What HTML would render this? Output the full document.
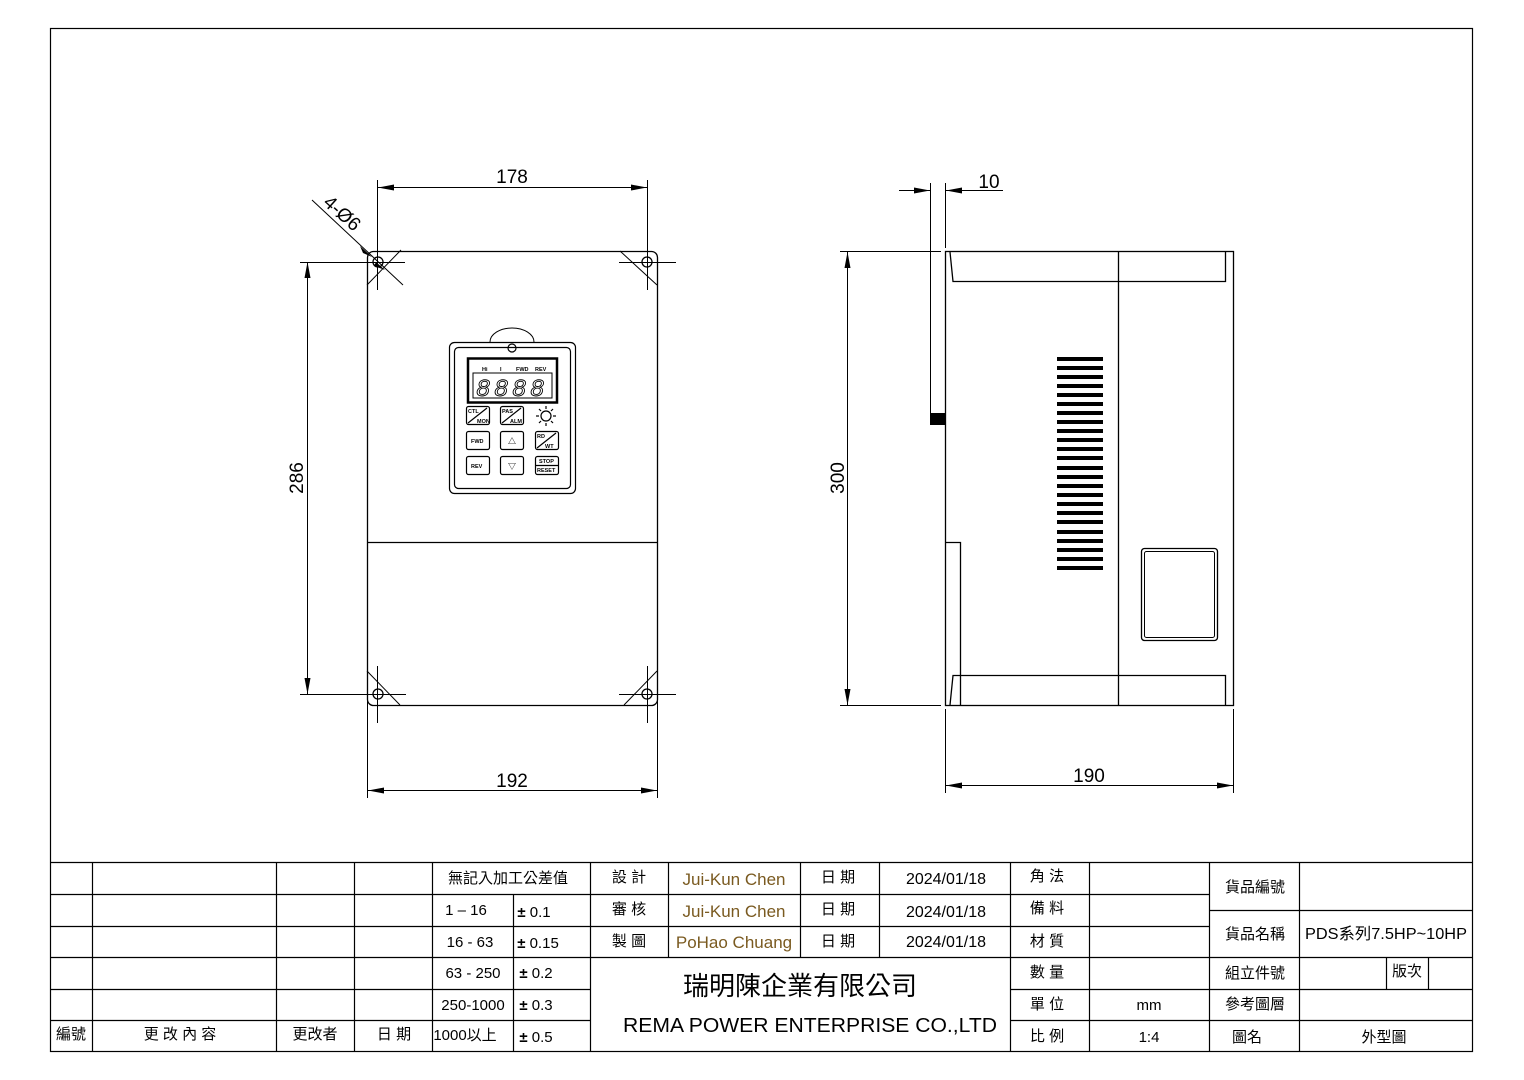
<!DOCTYPE html>
<html><head><meta charset="utf-8"><style>
html,body{margin:0;padding:0;background:#fff;}
svg{display:block;}
.t{font-family:"Liberation Sans","Noto Sans CJK TC",sans-serif;}
</style></head><body>
<svg width="1524" height="1080" viewBox="0 0 1524 1080" xmlns="http://www.w3.org/2000/svg">
<defs>
<marker id="a" viewBox="0 0 16 6" refX="16" refY="3" markerWidth="16" markerHeight="6" markerUnits="userSpaceOnUse" orient="auto-start-reverse"><path d="M0,0 L16,3 L0,6 Z" fill="#000"/></marker>
</defs>
<rect width="1524" height="1080" fill="#fff"/>
<rect x="50.5" y="28.5" width="1422" height="1023" fill="none" stroke="#000" stroke-width="1.2"/>

<!-- FRONT VIEW -->
<g fill="none" stroke="#000" stroke-width="1.3">
<rect x="367.5" y="251.5" width="290" height="454" rx="6"/>
<line x1="367" y1="542.5" x2="657" y2="542.5"/>
<circle cx="378" cy="262" r="5"/><circle cx="647" cy="262" r="5"/>
<circle cx="378" cy="694" r="5"/><circle cx="647" cy="694" r="5"/>
</g>
<g stroke="#000" stroke-width="1">
<line x1="377.5" y1="180" x2="377.5" y2="290"/>
<line x1="647.5" y1="180" x2="647.5" y2="290"/>
<line x1="300" y1="262.5" x2="405" y2="262.5"/>
<line x1="619" y1="262.5" x2="676" y2="262.5"/>
<line x1="300" y1="694.5" x2="406" y2="694.5"/>
<line x1="619" y1="694.5" x2="676" y2="694.5"/>
<line x1="377.5" y1="666" x2="377.5" y2="723"/>
<line x1="647.5" y1="666" x2="647.5" y2="723"/>
<line x1="367.5" y1="700" x2="367.5" y2="798"/>
<line x1="657.5" y1="700" x2="657.5" y2="798"/>
<line x1="367" y1="285" x2="401" y2="250"/>
<line x1="620" y1="251" x2="657" y2="285"/>
<line x1="367" y1="671" x2="400" y2="705"/>
<line x1="657" y1="671" x2="624" y2="705"/>
<line x1="312" y1="200" x2="403" y2="285"/>
<line x1="378" y1="187.5" x2="647" y2="187.5" marker-start="url(#a)" marker-end="url(#a)"/>
<line x1="368" y1="790.5" x2="657" y2="790.5" marker-start="url(#a)" marker-end="url(#a)"/>
<line x1="307.5" y1="262" x2="307.5" y2="694" marker-start="url(#a)" marker-end="url(#a)"/>
</g>
<path d="M360,246 L372,257 L363,253 Z M385,270 L374,266 L376,262 Z" fill="#000"/>
<text class="t" x="512" y="183" font-size="19" text-anchor="middle">178</text>
<text class="t" x="512" y="787" font-size="19" text-anchor="middle">192</text>
<text class="t" x="0" y="0" font-size="19" text-anchor="middle" transform="translate(303,478) rotate(-90)">286</text>
<text class="t" x="0" y="0" font-size="19" text-anchor="middle" transform="translate(338,218) rotate(42)">4-Ø6</text>

<!-- KEYPAD -->
<g fill="none" stroke="#000" stroke-width="1.2">
<path d="M490,342 A22,14 0 0 1 534,342" stroke-width="1"/>
<rect x="449.5" y="342.5" width="126" height="151" rx="5"/>
<rect x="454.5" y="347.5" width="116" height="141" rx="4"/>
<circle cx="512" cy="348" r="4"/>
<rect x="468" y="358.5" width="89" height="44" stroke-width="2.5"/>
<rect x="473" y="373" width="79" height="25" stroke-width="1"/>
<rect x="466.5" y="406.5" width="23" height="18" rx="2"/>
<rect x="500.5" y="406.5" width="23" height="18" rx="2"/>
<rect x="466.5" y="431.5" width="23" height="18" rx="2"/>
<rect x="500.5" y="431.5" width="23" height="18" rx="2"/>
<rect x="535.5" y="431.5" width="23" height="18" rx="2"/>
<rect x="466.5" y="456.5" width="23" height="18" rx="2"/>
<rect x="500.5" y="456.5" width="23" height="18" rx="2"/>
<rect x="535.5" y="456.5" width="23" height="18" rx="2"/>
<circle cx="546" cy="416" r="5"/>
<line x1="468" y1="423" x2="487" y2="408"/>
<line x1="502" y1="423" x2="521" y2="408"/>
<line x1="537" y1="448" x2="556" y2="433"/>
<line x1="536" y1="465.5" x2="558" y2="465.5"/>
</g>
<g font-family="'Liberation Mono',monospace" font-size="24" font-style="italic" fill="none" stroke="#000" stroke-width="0.9">
<text x="476" y="396">8</text><text x="494" y="396">8</text><text x="512" y="396">8</text><text x="530" y="396">8</text>
</g>
<g class="t" font-size="5.5" fill="#000" font-weight="bold">
<text x="482" y="371">Hi</text><text x="500" y="371">I</text><text x="516" y="371">FWD</text><text x="535" y="371">REV</text>
<text x="468" y="413">CTL</text><text x="477" y="423">MON</text>
<text x="502" y="413">PAS</text><text x="510" y="423">ALM</text>
<text x="471" y="443">FWD</text><text x="471" y="468">REV</text>
<text x="537" y="438">RD</text><text x="545" y="448">WT</text>
<text x="539" y="463">STOP</text><text x="537" y="472">RESET</text>
<text x="508" y="444" font-size="8">△</text><text x="508" y="469" font-size="8">▽</text>
</g>
<g stroke="#000" stroke-width="1.2">
<line x1="546" y1="406" x2="546" y2="409"/><line x1="546" y1="423" x2="546" y2="426"/>
<line x1="536" y1="416" x2="539" y2="416"/><line x1="553" y1="416" x2="556" y2="416"/>
<line x1="539" y1="409" x2="541" y2="411"/><line x1="551" y1="421" x2="553" y2="423"/>
<line x1="553" y1="409" x2="551" y2="411"/><line x1="539" y1="423" x2="541" y2="421"/>
</g>

<!-- SIDE VIEW -->
<g fill="none" stroke="#000" stroke-width="1.3">
<rect x="945.5" y="251.5" width="288" height="454"/>
<line x1="1118.5" y1="251" x2="1118.5" y2="705"/>
<path d="M950,252 L953,281.5 L1225.5,281.5 L1225.5,252"/>
<path d="M950,705 L953,675.5 L1225.5,675.5 L1225.5,705"/>
<path d="M945,542.5 L960.5,542.5 L960.5,705"/>
<rect x="1141.5" y="548.5" width="76" height="92" rx="3"/>
<rect x="1144.5" y="551.5" width="70" height="86" rx="2" stroke-width="1"/>
</g>
<rect x="930" y="413" width="15" height="12" fill="#000"/>
<g stroke="#000" stroke-width="1">
<line x1="930.5" y1="183" x2="930.5" y2="413"/>
<line x1="945.5" y1="183" x2="945.5" y2="248"/>
<line x1="899" y1="190.5" x2="930" y2="190.5" marker-end="url(#a)"/>
<line x1="1003" y1="190.5" x2="946" y2="190.5" marker-end="url(#a)"/>
<line x1="840" y1="251.5" x2="941" y2="251.5"/>
<line x1="840" y1="705.5" x2="941" y2="705.5"/>
<line x1="847.5" y1="252" x2="847.5" y2="705" marker-start="url(#a)" marker-end="url(#a)"/>
<line x1="945.5" y1="709" x2="945.5" y2="793"/>
<line x1="1233.5" y1="709" x2="1233.5" y2="793"/>
<line x1="946" y1="785.5" x2="1233" y2="785.5" marker-start="url(#a)" marker-end="url(#a)"/>
</g>
<text class="t" x="989" y="188" font-size="19" text-anchor="middle">10</text>
<text class="t" x="1089" y="782" font-size="19" text-anchor="middle">190</text>
<text class="t" x="0" y="0" font-size="19" text-anchor="middle" transform="translate(844,478) rotate(-90)">300</text>
<g fill="#000">
<rect x="1057" y="357" width="46" height="4"/><rect x="1057" y="366" width="46" height="4"/><rect x="1057" y="375" width="46" height="4"/><rect x="1057" y="384" width="46" height="4"/><rect x="1057" y="393" width="46" height="4"/><rect x="1057" y="402" width="46" height="4"/><rect x="1057" y="411" width="46" height="4"/><rect x="1057" y="420" width="46" height="4"/><rect x="1057" y="429" width="46" height="4"/><rect x="1057" y="438" width="46" height="4"/><rect x="1057" y="447" width="46" height="4"/><rect x="1057" y="456" width="46" height="4"/><rect x="1057" y="466" width="46" height="4"/><rect x="1057" y="475" width="46" height="4"/><rect x="1057" y="484" width="46" height="4"/><rect x="1057" y="493" width="46" height="4"/><rect x="1057" y="502" width="46" height="4"/><rect x="1057" y="511" width="46" height="4"/><rect x="1057" y="520" width="46" height="4"/><rect x="1057" y="530" width="46" height="4"/><rect x="1057" y="539" width="46" height="4"/><rect x="1057" y="548" width="46" height="4"/><rect x="1057" y="557" width="46" height="4"/><rect x="1057" y="566" width="46" height="4"/>
</g>

<!-- TITLE BLOCK -->
<g stroke="#000" stroke-width="1.2" fill="none">
<line x1="50" y1="862.5" x2="1472" y2="862.5"/>
<line x1="50" y1="894.5" x2="1010" y2="894.5"/>
<line x1="50" y1="926.5" x2="1010" y2="926.5"/>
<line x1="50" y1="957.5" x2="590" y2="957.5"/>
<line x1="50" y1="989.5" x2="590" y2="989.5"/>
<line x1="50" y1="1020.5" x2="590" y2="1020.5"/>
<line x1="590" y1="957.5" x2="1472" y2="957.5"/>
<line x1="1010" y1="894.5" x2="1209" y2="894.5"/>
<line x1="1010" y1="926.5" x2="1209" y2="926.5"/>
<line x1="1010" y1="989.5" x2="1472" y2="989.5"/>
<line x1="1010" y1="1020.5" x2="1472" y2="1020.5"/>
<line x1="1209" y1="910.5" x2="1472" y2="910.5"/>
<line x1="92.5" y1="862" x2="92.5" y2="1051"/>
<line x1="276.5" y1="862" x2="276.5" y2="1051"/>
<line x1="354.5" y1="862" x2="354.5" y2="1051"/>
<line x1="432.5" y1="862" x2="432.5" y2="1051"/>
<line x1="513.5" y1="894" x2="513.5" y2="1051"/>
<line x1="590.5" y1="862" x2="590.5" y2="1051"/>
<line x1="668.5" y1="862" x2="668.5" y2="957"/>
<line x1="800.5" y1="862" x2="800.5" y2="957"/>
<line x1="879.5" y1="862" x2="879.5" y2="957"/>
<line x1="1010.5" y1="862" x2="1010.5" y2="1051"/>
<line x1="1089.5" y1="862" x2="1089.5" y2="1051"/>
<line x1="1209.5" y1="862" x2="1209.5" y2="1051"/>
<line x1="1299.5" y1="862" x2="1299.5" y2="1051"/>
<line x1="1386.5" y1="957" x2="1386.5" y2="989"/>
<line x1="1428.5" y1="957" x2="1428.5" y2="989"/>
</g>
<g class="t" font-size="15" fill="#000" text-anchor="middle">
<text x="508" y="883">無記入加工公差值</text>
<text x="466" y="915">1 – 16</text><text x="534" y="917"><tspan font-weight="bold">±</tspan> 0.1</text>
<text x="470" y="947">16 - 63</text><text x="538" y="948"><tspan font-weight="bold">±</tspan> 0.15</text>
<text x="473" y="978">63 - 250</text><text x="536" y="978"><tspan font-weight="bold">±</tspan> 0.2</text>
<text x="473" y="1010">250-1000</text><text x="536" y="1010"><tspan font-weight="bold">±</tspan> 0.3</text>
<text x="465" y="1040">1000以上</text><text x="536" y="1042"><tspan font-weight="bold">±</tspan> 0.5</text>
<text x="71" y="1039">編號</text><text x="180" y="1039">更 改 內 容</text><text x="315" y="1039">更改者</text><text x="394" y="1039">日 期</text>
<text x="629" y="882">設 計</text><text x="629" y="914">審 核</text><text x="629" y="946">製 圖</text>
<text x="838" y="882">日 期</text><text x="838" y="914">日 期</text><text x="838" y="946">日 期</text>
<text x="946" y="884" font-size="16">2024/01/18</text><text x="946" y="917" font-size="16">2024/01/18</text><text x="946" y="947" font-size="16">2024/01/18</text>
<text x="1047" y="881">角 法</text><text x="1047" y="913">備 料</text><text x="1047" y="946">材 質</text>
<text x="1047" y="977">數 量</text><text x="1047" y="1009">單 位</text><text x="1047" y="1041">比 例</text>
<text x="1149" y="1010">mm</text><text x="1149" y="1042">1:4</text>
<text x="1255" y="892">貨品編號</text><text x="1255" y="939">貨品名稱</text><text x="1255" y="978">組立件號</text><text x="1255" y="1009">參考圖層</text><text x="1247" y="1042">圖名</text>
<text x="1407" y="976">版次</text><text x="1384" y="1042">外型圖</text>
<text x="1386" y="939" font-size="16" textLength="162" lengthAdjust="spacingAndGlyphs">PDS系列7.5HP~10HP</text>
<text x="800" y="995" font-size="26">瑞明陳企業有限公司</text>
<text x="623" y="1032" font-size="20" text-anchor="start" textLength="374" lengthAdjust="spacingAndGlyphs">REMA POWER ENTERPRISE CO.,LTD</text>
</g>
<g class="t" font-size="17" text-anchor="middle" fill="#7a5a20">
<text x="734" y="885">Jui-Kun Chen</text><text x="734" y="917">Jui-Kun Chen</text><text x="734" y="948">PoHao Chuang</text>
</g>
</svg>
</body></html>
